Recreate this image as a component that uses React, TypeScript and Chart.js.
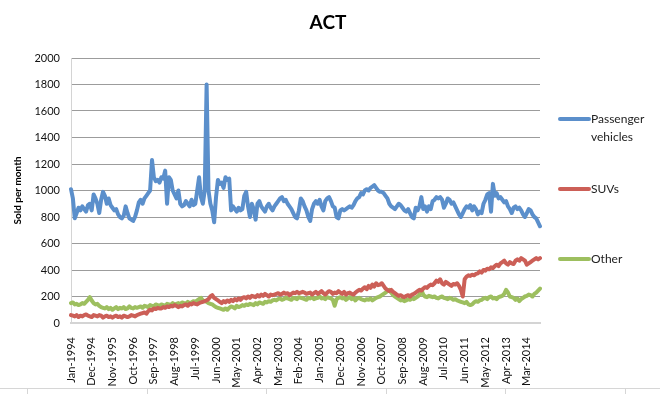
import React, { useEffect, useRef } from "react";
import { Chart, registerables } from "chart.js";

Chart.register(...registerables);

const MONTHS = ["Jan", "Feb", "Mar", "Apr", "May", "Jun", "Jul", "Aug", "Sep", "Oct", "Nov", "Dec"];
const START_YEAR = 1994;
const LABEL_EVERY = 11;
const Y_MAX = 2000;
const Y_STEP = 200;

const passenger = [
  1010, 940, 790, 830, 870, 850, 880, 860, 840, 890, 900, 850,
  970, 940, 900, 830, 930, 990, 960, 900, 940, 890, 870, 850,
  860, 820, 800, 790, 810, 880, 830, 790, 780, 770, 800, 850,
  910, 930, 900, 940, 960, 980, 1000, 1230, 1100, 1070, 1080, 1060,
  1100, 1090, 1150, 900, 1100, 1080, 1000, 970, 940, 1000, 900, 880,
  890, 920, 900, 880, 930, 890, 900, 1000, 1100, 950, 900, 1000,
  1800, 1000, 900, 850, 760, 950, 1080, 1050, 1060, 1020, 1100, 1080,
  1090, 850, 880, 860, 840, 870, 850, 860, 960, 990, 880, 800,
  900, 860, 780, 900, 920, 880, 860, 840, 880, 900, 870, 850,
  880, 900, 920, 940, 950, 920, 930, 900, 880, 860, 830, 800,
  790, 850, 940, 920, 880, 850, 800, 770, 860, 900, 920, 900,
  930, 880, 850, 920, 940, 950, 920, 880, 870, 800, 790, 850,
  860, 850, 860, 870, 880, 870, 890, 920, 940, 950, 980, 970,
  1000, 1010, 1000, 1020, 1030, 1040, 1020, 1000, 990, 990, 980, 960,
  940, 900, 880, 870, 860, 880, 900, 890, 870, 850, 840, 860,
  830, 800, 790, 870, 850, 880, 950, 860, 880, 840, 880, 860,
  920, 930, 950, 940, 950, 930, 870, 900, 940, 930, 900, 910,
  880, 850, 820, 800, 830, 860, 880, 870, 890, 850, 880, 860,
  820, 840, 830, 900, 930, 970, 980, 840, 1050, 960, 980, 940,
  950, 930, 910, 920, 880, 860, 830, 870, 880, 860, 870, 850,
  820, 800, 830, 860, 850, 820, 800, 790, 760, 730,
];

const suvs = [
  60, 55, 50, 60, 45, 55, 50, 60, 65, 55, 50, 45,
  60, 55, 50, 60, 55, 40, 50, 55, 45, 50, 40, 50,
  55, 45, 50, 40, 55, 50, 45, 50, 60, 55, 50, 60,
  65, 70, 75, 80, 70, 90, 100, 95, 110, 105, 115, 110,
  110, 120, 115, 125, 120, 130, 125, 135, 130, 120, 130, 125,
  135, 140, 130, 145, 140, 150, 145, 140, 150, 155, 160, 165,
  170, 180, 200, 210, 190, 180, 170, 160, 150, 165, 155, 170,
  160, 175, 165, 180, 170, 185, 175, 190, 195, 185, 200, 190,
  205, 200, 195, 210, 200, 215, 205, 220, 210, 200, 215, 210,
  215, 220, 225, 215, 220, 230, 220, 225, 210, 220, 230, 225,
  235, 225, 230, 235, 230, 220, 225, 230, 215, 225, 235, 220,
  230, 240, 225, 215, 230, 240, 235, 220, 230, 225, 240, 230,
  220, 235, 215, 225, 230, 220, 215, 230, 240, 250, 245, 260,
  270, 255, 280, 265, 290, 275, 300, 285, 290, 300, 280, 260,
  250, 240, 250, 235, 225, 215, 205, 210, 200, 195, 205, 210,
  200, 215, 220, 230, 240, 250, 245, 260, 270, 265, 280, 290,
  285, 300, 320, 310, 330, 300, 290, 310, 300, 290, 280, 295,
  290, 300, 280, 250, 200, 330, 350, 360, 355, 365, 360, 370,
  375, 390, 380, 400, 395, 410, 405, 420, 415, 430, 440, 430,
  450, 460, 470, 450, 440, 460, 450, 445, 470, 480, 470, 490,
  480, 470, 440, 450, 460, 470, 480, 490, 480, 490,
];

const other = [
  150, 155, 140, 145, 135, 140, 150, 145, 160, 175, 195, 170,
  150, 140, 145, 130, 120, 115, 110, 120, 105, 115, 100, 110,
  120, 105, 115, 110, 120, 105, 110, 125, 115, 110, 120, 115,
  120, 125, 115, 130, 125, 120, 135, 130, 125, 140, 135, 130,
  140, 135, 130, 145, 140, 135, 150, 140, 145, 150, 140, 155,
  150, 145, 160, 150, 155, 165, 160, 170, 180, 190, 170, 165,
  160, 150, 145, 140, 130, 120, 115, 110, 105, 100, 110, 100,
  115, 125, 120, 110, 130, 120, 125, 135, 130, 140, 135, 145,
  140, 135, 150, 140, 155, 150, 145, 160, 155, 165, 160, 170,
  175, 170, 180, 185, 175, 180, 190, 185, 180, 175, 190, 185,
  180, 195, 190, 185, 180, 175, 190, 185, 195, 180, 185, 190,
  200, 185, 190, 180, 195, 190, 185, 175, 130, 180, 190, 195,
  185, 190, 175, 185, 195, 180, 190, 170, 185, 190, 180, 175,
  170, 180, 175, 185, 170, 180, 190, 195, 200, 210, 220, 230,
  240, 250, 230, 210, 200, 190, 180, 170, 175, 165, 170, 180,
  175, 185, 180, 190, 200, 210, 250, 215, 200, 195, 205, 200,
  195, 200, 190, 185, 195, 200, 190, 185, 180, 190, 185, 175,
  180, 170, 165, 160, 155, 150, 160, 140, 135, 140, 155, 165,
  160, 170, 175, 185, 190, 180, 195, 200, 185, 190, 180, 195,
  200, 205, 220, 250, 230, 200, 195, 190, 175, 185, 165, 180,
  190, 200, 205, 215, 210, 200, 220, 230, 245, 260,
];

const SERIES_NAMES = ["Passenger vehicles", "SUVs", "Other"];
const SERIES_COLORS = ["#5b8fcb", "#cc5f57", "#9dbf5f"];
const LEGEND_Y = [119, 189, 259];

const labels = passenger.map((_, i) => `${MONTHS[i % 12]}-${START_YEAR + Math.floor(i / 12)}`);

const FONT = "Lato, 'Open Sans', 'Liberation Sans', sans-serif";

const overlayPlugin = {
  id: "overlay",
  afterDraw(chart: any) {
    const ctx = chart.ctx as CanvasRenderingContext2D;
    ctx.save();
    // Title
    ctx.fillStyle = "#000";
    ctx.font = `bold 19px ${FONT}`;
    ctx.textAlign = "center";
    ctx.textBaseline = "middle";
    ctx.fillText("ACT", 328, 23);
    // Legend
    ctx.font = `12px ${FONT}`;
    ctx.textAlign = "left";
    chart.data.datasets.forEach((ds: any, i: number) => {
      const y = LEGEND_Y[i];
      ctx.strokeStyle = ds.borderColor;
      ctx.lineWidth = 4;
      ctx.lineCap = "round";
      ctx.beginPath();
      ctx.moveTo(560, y);
      ctx.lineTo(589, y);
      ctx.stroke();
      ctx.fillStyle = "#222";
      const words = String(ds.label).split(" ");
      const lines: string[] = [];
      let cur = "";
      words.forEach((w) => {
        const t = cur ? cur + " " + w : w;
        if (cur && ctx.measureText(t).width > 62) {
          lines.push(cur);
          cur = w;
        } else cur = t;
      });
      if (cur) lines.push(cur);
      lines.forEach((l, k) => ctx.fillText(l, 591, y + k * 18));
    });
    // spreadsheet cell borders below the chart
    ctx.strokeStyle = "#d6d6d6";
    ctx.lineWidth = 1;
    ctx.beginPath();
    ctx.moveTo(0, 388.5);
    ctx.lineTo(660, 388.5);
    [27, 147, 266, 386, 505, 625].forEach((x) => {
      ctx.moveTo(x + 0.5, 389);
      ctx.lineTo(x + 0.5, 394);
    });
    ctx.stroke();
    ctx.restore();
  },
};

export default function App() {
  const ref = useRef<HTMLCanvasElement | null>(null);
  useEffect(() => {
    if (!ref.current) return;
    const data = [passenger, suvs, other];
    const chart = new Chart(ref.current, {
      type: "line",
      data: {
        labels,
        datasets: data.map((d, i) => ({
          label: SERIES_NAMES[i],
          data: d,
          borderColor: SERIES_COLORS[i],
          backgroundColor: SERIES_COLORS[i],
          borderWidth: 4,
          pointRadius: 0,
          tension: 0,
          borderJoinStyle: "round" as const,
          borderCapStyle: "round" as const,
        })),
      },
      options: {
        animation: false,
        responsive: false,
        maintainAspectRatio: false,
        layout: { padding: { top: 58, right: 120, bottom: 0, left: 0 } },
        plugins: {
          legend: { display: false },
          title: { display: false },
          tooltip: { enabled: false },
        },
        scales: {
          x: {
            grid: { display: false },
            border: { display: true, color: "#d4d4d4", width: 2 },
            ticks: {
              autoSkip: false,
              minRotation: 90,
              maxRotation: 90,
              padding: 6,
              color: "#111",
              font: { family: FONT, size: 11 },
              callback: (_v: any, i: number) => (i % LABEL_EVERY === 0 ? labels[i] : null),
            },
            afterFit: (s: any) => {
              s.height = 71;
            },
          },
          y: {
            min: 0,
            max: Y_MAX,
            ticks: {
              stepSize: Y_STEP,
              padding: 11,
              color: "#111",
              font: { family: FONT, size: 11 },
              callback: (v: any) => String(v),
            },
            grid: {
              color: (c: any) => (c.tick && c.tick.value === 0 ? "#d4d4d4" : "#9c9c9c"),
              lineWidth: 1,
              drawTicks: false,
            },
            border: { display: true, color: "#d4d4d4", width: 1 },
            title: {
              display: true,
              text: "Sold per month",
              color: "#000",
              font: { family: FONT, size: 10, weight: "bold" },
              padding: { top: 12, bottom: 0 },
            },
            afterFit: (s: any) => {
              s.width = 71;
            },
          },
        },
      },
      plugins: [overlayPlugin],
    });
    return () => chart.destroy();
  }, []);
  return (
    <div style={{ position: "fixed", left: 0, top: 0, width: 660, height: 394, background: "#fff" }}>
      <canvas ref={ref} width={660} height={394} style={{ width: 660, height: 394, display: "block" }} />
    </div>
  );
}
